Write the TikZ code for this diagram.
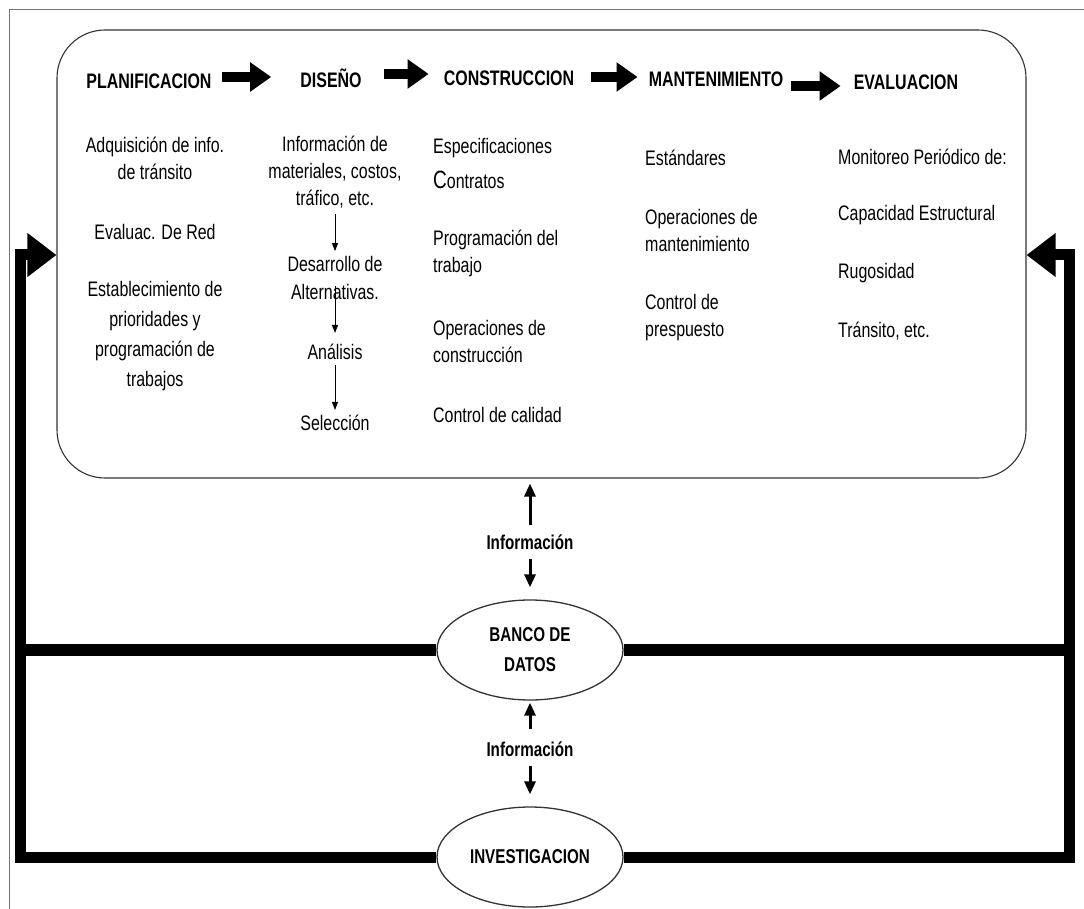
\documentclass[tikz,border=0pt]{standalone}
\usepackage{fontspec}
\setmainfont{Liberation Sans}[FakeStretch=0.76]
\usetikzlibrary{arrows.meta,shapes.geometric}
\begin{document}
\begin{tikzpicture}[x=1pt,y=-1pt,
  body/.style={inner sep=0pt, font=\fontsize{21}{27}\selectfont},
  bodyc/.style={body, align=center},
  bodyl/.style={body, align=left, anchor=west},
  hdr/.style={inner sep=0pt, font=\bfseries\fontsize{21}{24}\selectfont},
  blockarrow/.style={line width=10pt, -{Triangle[length=21pt,width=28pt]}},
  thinarrow/.style={line width=0.9pt, -{Triangle[length=8pt,width=6pt]}},
  infoarrow/.style={line width=3pt, -{Triangle[length=13pt,width=11pt]}},
  loopline/.style={line width=12pt},
  looparrow/.style={line width=11pt, -{Triangle[length=29pt,width=42pt]}},
  store/.style={ellipse, draw=black!80, line width=1.3pt, fill=white,
    minimum width=186pt, minimum height=100pt, inner sep=0pt, align=center,
    font=\bfseries\fontsize{20}{30}\selectfont},
  infolabel/.style={inner sep=0pt, font=\bfseries\fontsize{20}{24}\selectfont}
]
\fill[white] (0,0) rectangle (1084,909);
\useasboundingbox (0,0) rectangle (1084,909);

% thin page frame
\draw[black!55, line width=1pt] (9,909) -- (9,10) -- (1084,10);

% the process box
\node[draw=black!80, line width=1.1pt, rounded corners=48pt,
  minimum width=969pt, minimum height=448pt, inner sep=0pt] (box) at (541.5,254) {};

% stage headings
\node[hdr] (plan) at (149,81) {PLANIFICACION};
\node[hdr] (dis)  at (331,78) {DISEÑO};
\node[hdr] (cons) at (509,78) {CONSTRUCCION};
\node[hdr] (mant) at (716,79) {MANTENIMIENTO};
\node[hdr] (eval) at (906,82) {EVALUACION};

\draw[blockarrow] ([xshift=10pt,yshift=4pt]plan.east) -- ([xshift=-29pt,yshift=1pt]dis.west);
\draw[blockarrow] ([xshift=22pt,yshift=4pt]dis.east) -- ([xshift=-15pt,yshift=4pt]cons.west);
\draw[blockarrow] ([xshift=17pt,yshift=1pt]cons.east) -- ([xshift=-11pt,yshift=2pt]mant.west);
\draw[blockarrow] ([xshift=8pt,yshift=-7pt]mant.east) -- ([xshift=-13pt,yshift=-4pt]eval.west);

% planning column
\node[bodyc] (adq) at (155,158) {Adquisición de info.\\de tránsito};
\node[bodyc] (evr) at (155,232) {Evaluac. De Red};
\node[bodyc, font=\fontsize{21}{30}\selectfont] (prio) at (155,336)
  {Establecimiento de\\prioridades y\\programación de\\trabajos};

% design column
\node[bodyc] (infm) at (335,172) {Información de\\materiales, costos,\\tráfico, etc.};
\node[bodyc, font=\fontsize{21}{28}\selectfont] (desa) at (335,278) {Desarrollo de\\Alternativas.};
\node[bodyc] (anal) at (335,352) {Análisis};
\node[bodyc] (sel)  at (335,423) {Selección};

\draw[thinarrow, shorten <=6pt, shorten >=5pt] (infm.south) -- (desa.north);
\draw[thinarrow, shorten >=11pt] ([yshift=14pt]desa.south) -- (anal.north);
\draw[thinarrow, shorten <=5pt, shorten >=5pt] (anal.south) -- (sel.north);

% construction column
\node[bodyl] (espec) at (433,164)
  {Especificaciones\\[8pt]{\fontsize{25}{27}\selectfont C}ontratos};
\node[bodyl] (prog) at (433,253) {Programación del\\trabajo};
\node[bodyl] (opc)  at (433,341) {Operaciones de\\construcción};
\node[bodyl] (ctrl) at (433,415) {Control de calidad};

% maintenance column
\node[bodyl] (estd) at (645,158) {Estándares};
\node[bodyl] (opm)  at (645,230) {Operaciones de\\mantenimiento};
\node[bodyl] (cpr)  at (645,318) {Control de\\prespuesto};

% evaluation column
\node[bodyl] (mon) at (838,157) {Monitoreo Periódico de:};
\node[bodyl] (cap) at (838,215) {Capacidad Estructural};
\node[bodyl] (rug) at (838,273) {Rugosidad};
\node[bodyl] (tra) at (838,331) {Tránsito, etc.};

% data stores
\node[store] (banco) at (530,650) {BANCO DE\\DATOS};
\node[store] (inv)   at (530,857) {INVESTIGACION};

% information exchanges
\node[infolabel] (inf1) at (530,542) {Información};
\node[infolabel] (inf2) at (530,749) {Información};
\draw[infoarrow, shorten <=9pt, shorten >=5pt] (inf1.north) -- (inf1.north |- box.south);
\draw[infoarrow, shorten <=9pt, shorten >=12pt] (inf1.south) -- (inf1.south |- banco.north);
\draw[infoarrow, shorten <=12pt, shorten >=2pt] (inf2.north) -- (inf2.north |- banco.south);
\draw[infoarrow, shorten <=9pt, shorten >=12pt] (inf2.south) -- (inf2.south |- inv.north);

% feedback loops
\coordinate (lc) at (20,255);
\coordinate (rc) at (1069,255);
\draw[looparrow] (inv.west) -| (lc) -- (lc -| box.west);
\draw[looparrow] (inv.east) -| (rc) -- (rc -| box.east);
\draw[loopline] (banco.west) -- (banco.west -| lc);
\draw[loopline] (banco.east) -- (banco.east -| rc);
\end{tikzpicture}
\end{document}
